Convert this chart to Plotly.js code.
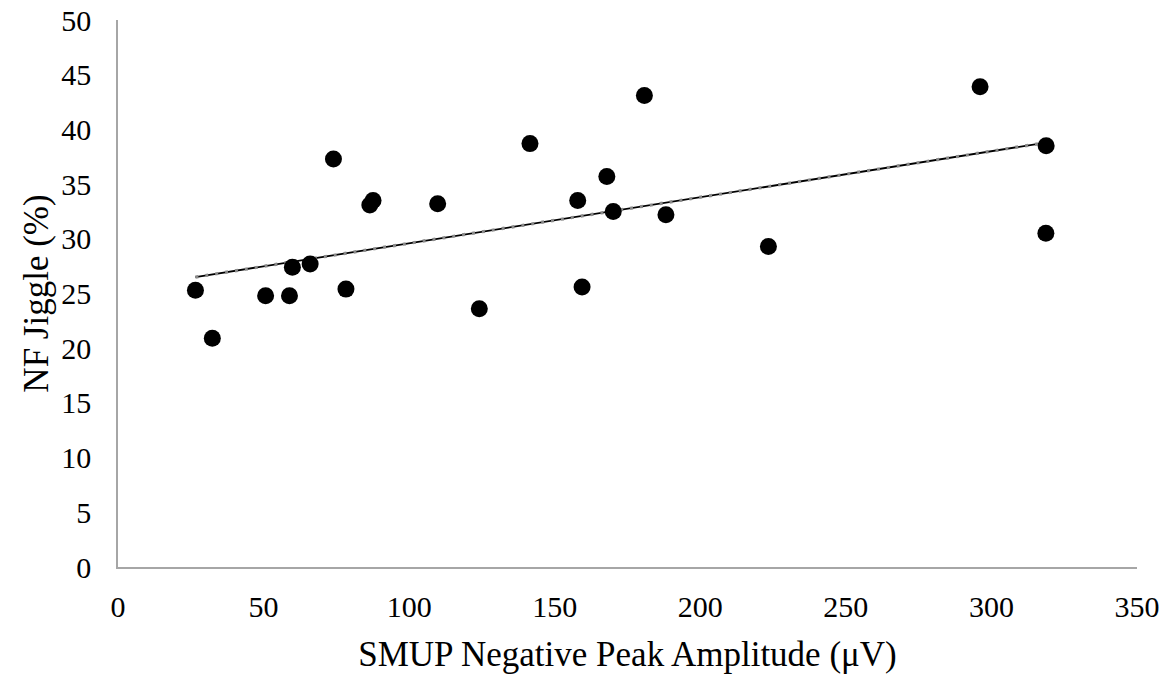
<!DOCTYPE html>
<html>
<head>
<meta charset="utf-8">
<script src="https://cdn.plot.ly/plotly-3.0.1.min.js"></script>
<style>html,body{margin:0;padding:0;background:#fff;}#chart{width:1171px;height:681px;}</style>
</head>
<body>
<div id="chart"></div>
<script>
// SMUP negative peak amplitude (µV) vs NF jiggle (%)
const amplitude = [26.6, 32.4, 50.7, 58.9, 59.9, 66.0, 74.0, 78.3, 86.5, 87.6, 109.8, 124.1,
                   141.5, 159.4, 157.9, 167.9, 170.1, 180.8, 188.2, 223.4, 296.1, 318.8, 318.7];
const jiggle = [25.3, 20.9, 24.8, 24.8, 27.4, 27.7, 37.3, 25.4, 33.1, 33.5, 33.2, 23.6,
                38.7, 25.6, 33.5, 35.7, 32.5, 43.1, 32.2, 29.3, 43.9, 38.5, 30.5];
// linear trendline end points
const trendX = [26.6, 318.8];
const trendY = [26.5, 38.8];
const xTicks = [0, 50, 100, 150, 200, 250, 300, 350];
const yTicks = [0, 5, 10, 15, 20, 25, 30, 35, 40, 45, 50];

const font = 'Liberation Serif, Times New Roman, serif';

const traces = [
  {x: trendX, y: trendY, mode: 'lines', type: 'scatter',
   line: {color: '#000000', width: 1.8}, hoverinfo: 'skip'},
  {x: trendX, y: trendY, mode: 'lines', type: 'scatter',
   line: {color: '#8a8a8a', width: 3.2, dash: '3px,7px'}, hoverinfo: 'skip'},
  {x: amplitude, y: jiggle, mode: 'markers', type: 'scatter',
   marker: {color: '#000000', size: 17, line: {width: 0}}}
];

const layout = {
  width: 1171, height: 681,
  margin: {l: 118, r: 34, t: 20, b: 114},
  paper_bgcolor: '#ffffff', plot_bgcolor: '#ffffff',
  showlegend: false,
  font: {family: font, color: '#000000', size: 30},
  xaxis: {
    range: [0, 350], tickvals: xTicks, ticktext: xTicks.map(String),
    showgrid: false, zeroline: false, showline: true,
    linecolor: '#a6a6a6', linewidth: 1.8, ticks: '',
    ticklabelstandoff: 12,
    tickfont: {family: font, size: 30, color: '#000'},
    title: {text: 'SMUP Negative Peak Amplitude (\u03bcV)', font: {family: font, size: 35, color: '#000'}, standoff: 20}
  },
  yaxis: {
    range: [0, 50], tickvals: yTicks, ticktext: yTicks.map(String),
    showgrid: false, zeroline: false, showline: true,
    linecolor: '#a6a6a6', linewidth: 1.8, ticks: '',
    ticklabelstandoff: 19,
    tickfont: {family: font, size: 30, color: '#000'},
    title: {text: 'NF Jiggle (%)', font: {family: font, size: 35, color: '#000'}, standoff: 2}
  }
};

Plotly.newPlot('chart', traces, layout, {staticPlot: true, displayModeBar: false});
</script>
</body>
</html>
